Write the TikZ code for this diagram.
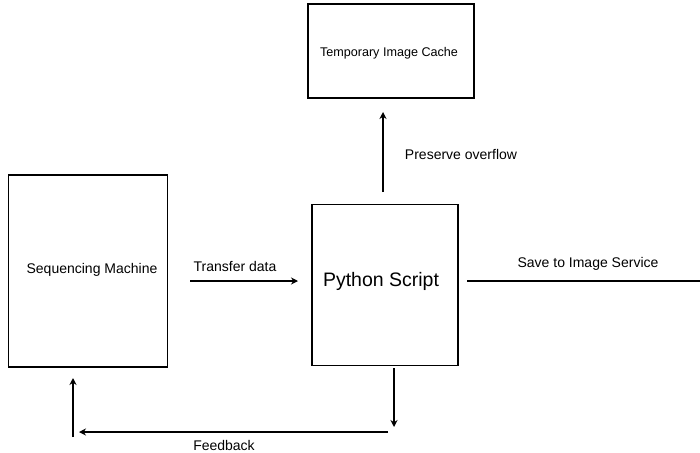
\documentclass[tikz,border=0pt]{standalone}
\usepackage{fontspec}
\setmainfont{Liberation Sans}
\usetikzlibrary{arrows.meta}
\begin{document}
\begin{tikzpicture}[x=1pt,y=-1pt,
  box/.style={draw,line width=1.6pt,inner sep=0pt},
  conn/.style={line width=1.6pt},
  arr/.style={conn,-{Stealth[length=7pt,width=7pt]}},
  lbl/.style={inner sep=0pt,font=\fontsize{14}{16}\selectfont}]
\useasboundingbox (0,0) rectangle (700,452);

% boxes
\node[box,minimum width=166pt,minimum height=94pt] (cache) at (391,51) {};
\node[lbl,font=\fontsize{12.6}{15}\selectfont] (cachetxt) at (389,53) {Temporary Image Cache};
\node[box,minimum width=159pt,minimum height=192pt] (seq) at (88,271) {};
\node[lbl] (seqtxt) at (92,270) {Sequencing Machine};
\node[box,minimum width=146pt,minimum height=161pt] (py) at (385,285) {};
\node[lbl,font=\fontsize{19.5}{22}\selectfont] (pytxt) at (381,281) {Python Script};

% connector end points
\coordinate (trA) at (190,281);
\coordinate (trB) at (298,281);
\coordinate (upA) at (383,192);
\coordinate (upB) at (383,112);
\coordinate (svA) at (467,281);
\coordinate (svB) at (700,281);
\coordinate (dnA) at (394,368);
\coordinate (dnB) at (394,427);
\coordinate (fbA) at (388,432);
\coordinate (fbB) at (79,432);
\coordinate (smA) at (73,437);
\coordinate (smB) at (73,378);

% connectors
\draw[arr] (trA) -- (trB);
\draw[arr] (upA) -- (upB);
\draw[conn] (svA) -- (svB);
\draw[arr] (dnA) -- (dnB);
\draw[arr] (fbA) -- (fbB);
\draw[arr] (smA) -- (smB);

% labels
\node[lbl] (trtxt) at (235,266) {Transfer data};
\node[lbl] (uptxt) at (461,154) {Preserve overflow};
\node[lbl] (svtxt) at (588,264) {Save to Image Service};
\node[lbl] (fbtxt) at (224,445) {Feedback};
\end{tikzpicture}
\end{document}
